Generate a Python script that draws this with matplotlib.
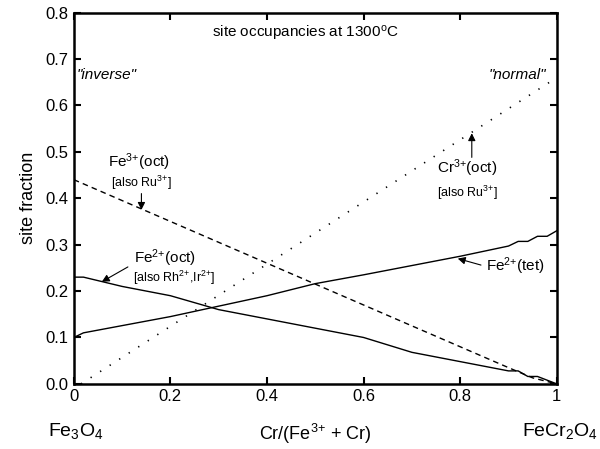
import numpy as np
import matplotlib
matplotlib.use("Agg")
import matplotlib.pyplot as plt

plt.rcParams['font.family'] = ['Liberation Sans', 'DejaVu Sans']
plt.rcParams['mathtext.fontset'] = 'custom'
plt.rcParams['mathtext.rm'] = 'Liberation Sans'
plt.rcParams['mathtext.it'] = 'Liberation Sans:italic'

# site occupancies
x_fe2_oct = [0, 0.02, 0.1, 0.2, 0.3, 0.4, 0.5, 0.6, 0.7, 0.8, 0.9, 0.92, 0.94, 0.96, 0.98, 1.0]
fe2_oct = [0.23, 0.23, 0.21, 0.19, 0.16, 0.14, 0.12, 0.10, 0.068, 0.048, 0.028, 0.028, 0.016, 0.016, 0.008, 0.0]

x_fe2_tet = [0, 0.02, 0.2, 0.4, 0.5, 0.6, 0.7, 0.8, 0.9, 0.92, 0.94, 0.96, 0.98, 1.0]
fe2_tet = [0.10, 0.11, 0.145, 0.19, 0.216, 0.235, 0.255, 0.275, 0.297, 0.307, 0.307, 0.318, 0.318, 0.33]

x_fe3_oct = [0, 0.1, 0.2, 0.3, 0.4, 0.5, 0.6, 0.7, 0.8, 0.9, 0.95, 1.0]
fe3_oct = [0.44, 0.395, 0.35, 0.305, 0.26, 0.215, 0.17, 0.125, 0.08, 0.035, 0.013, 0.0]

x_cr3_oct = [0.015, 0.1, 0.2, 0.3, 0.4, 0.5, 0.6, 0.7, 0.8, 0.9, 1.0]
cr3_oct = [0.0, 0.057, 0.124, 0.191, 0.258, 0.325, 0.392, 0.459, 0.526, 0.593, 0.66]

xticks = [0, 0.2, 0.4, 0.6, 0.8, 1]
xtick_labels = ['0', '0.2', '0.4', '0.6', '0.8', '1']
yticks = [0.0, 0.1, 0.2, 0.3, 0.4, 0.5, 0.6, 0.7, 0.8]

fig = plt.figure(figsize=(6, 4.49), dpi=100)
ax = fig.add_axes([0.123, 0.145, 0.805, 0.827])

ax.plot(x_fe2_oct, fe2_oct, color='black', lw=1)
ax.plot(x_fe2_tet, fe2_tet, color='black', lw=1)
ax.plot(x_fe3_oct, fe3_oct, color='black', lw=1, linestyle=(0, (4, 3)))
ax.plot(x_cr3_oct, cr3_oct, color='black', lw=1.2, linestyle=(0, (0.8, 6)))

ax.set_xlim(0, 1)
ax.set_ylim(0, 0.8)
ax.set_xticks(xticks)
ax.set_xticklabels(xtick_labels)
ax.set_yticks(yticks)
ax.set_yticklabels([f'{v:.1f}' for v in yticks])
ax.tick_params(direction='in', length=5, width=1.5, top=True, right=True,
               labelsize=12, pad=4)
for s in ax.spines.values():
    s.set_linewidth(1.8)

ax.set_ylabel('site fraction', fontsize=13, labelpad=6)
fig.text(0.525, 0.02, r'Cr/(Fe$^{\text{3+}}$ + Cr)', fontsize=13,
         ha='center', va='baseline')
fig.text(0.127, 0.03, 'Fe$_3$O$_4$', fontsize=14, ha='center', va='baseline')
fig.text(0.933, 0.03, 'FeCr$_2$O$_4$', fontsize=14, ha='center', va='baseline')

ax.text(0.48, 0.755, r'site occupancies at 1300$^{\text{o}}$C', fontsize=11, ha='center', va='center')
ax.text(0.005, 0.665, '"inverse"', fontsize=11, style='italic', ha='left', va='center')
ax.text(0.978, 0.665, '"normal"', fontsize=11, style='italic', ha='right', va='center')

arrow = dict(arrowstyle='-|>', color='black', lw=0.8, mutation_scale=11, shrinkA=0, shrinkB=0)

ax.text(0.136, 0.477, r'Fe$^{\text{3+}}$(oct)', fontsize=11, ha='center', va='center')
ax.text(0.14, 0.434, r'[also Ru$^{\text{3+}}$]', fontsize=9, ha='center', va='center')
ax.annotate('', xy=(0.14, 0.375), xytext=(0.14, 0.41), arrowprops=arrow)

ax.text(0.815, 0.464, r'Cr$^{\text{3+}}$(oct)', fontsize=11, ha='center', va='center')
ax.text(0.815, 0.411, r'[also Ru$^{\text{3+}}$]', fontsize=9, ha='center', va='center')
ax.annotate('', xy=(0.824, 0.54), xytext=(0.824, 0.488), arrowprops=arrow)

ax.text(0.125, 0.27, r'Fe$^{\text{2+}}$(oct)', fontsize=11, ha='left', va='center')
ax.text(0.122, 0.228, r'[also Rh$^{\text{2+}}$,Ir$^{\text{2+}}$]', fontsize=9, ha='left', va='center')
ax.annotate('', xy=(0.058, 0.22), xytext=(0.112, 0.252), arrowprops=arrow)

ax.text(0.853, 0.254, r'Fe$^{\text{2+}}$(tet)', fontsize=11, ha='left', va='center')
ax.annotate('', xy=(0.795, 0.27), xytext=(0.843, 0.256), arrowprops=arrow)

fig.savefig('out.png', dpi=100)
